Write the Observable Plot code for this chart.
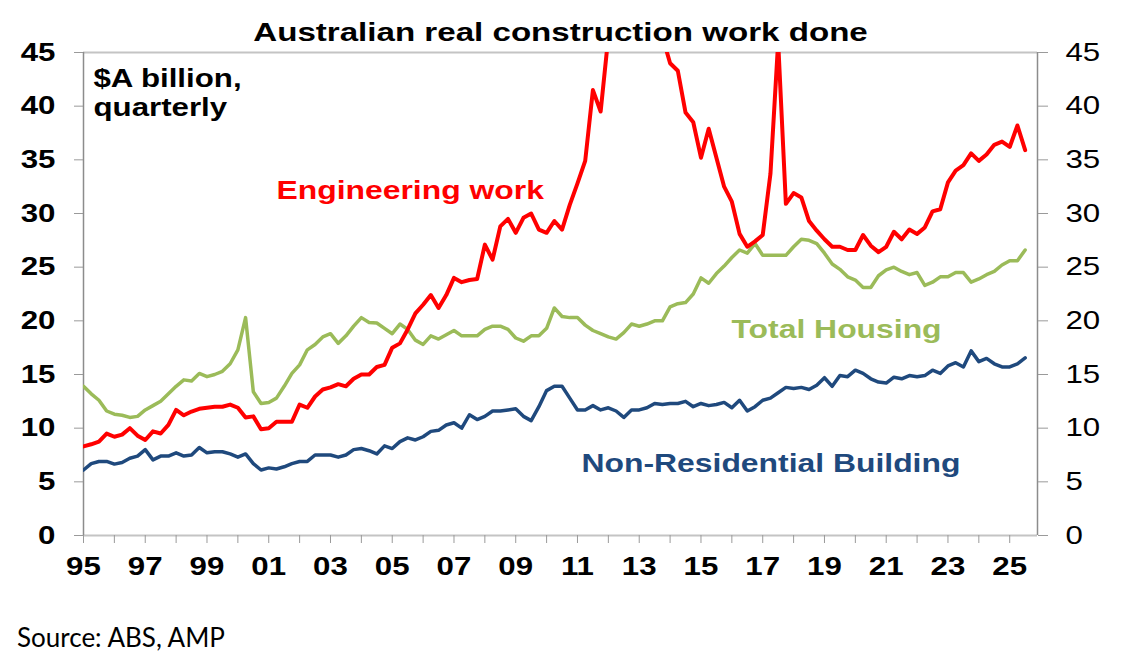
<!DOCTYPE html>
<html><head><meta charset="utf-8">
<script src="https://cdn.jsdelivr.net/npm/d3@7"></script>
<script src="https://cdn.jsdelivr.net/npm/@observablehq/plot@0.6"></script>
<style>
body{margin:0;background:#fff;}
#wrap{position:relative;width:1121px;height:665px;overflow:hidden;}
#frame{position:absolute;left:17px;top:10px;width:1087px;height:576px;border:1px solid #efefef;box-sizing:border-box;}
#chart{position:absolute;left:0;top:0;}
#source{position:absolute;left:17px;top:624px;font-family:Lato,'Open Sans',sans-serif;font-size:26px;line-height:26px;color:#000;}
</style></head><body>
<div id="wrap"><div id="frame"></div><div id="chart"></div><div id="source">Source: ABS, AMP</div></div>
<script>
const title = "Australian real construction work done";
const unitLabel = ["$A billion,", "quarterly"];
const seriesNames = ["Engineering work", "Total Housing", "Non-Residential Building"];
const seriesColors = ["#ff0000", "#9bbb59", "#1f497d"];
const startYear = 1995; // quarterly from 1995 Q1
const yTicks = [0, 5, 10, 15, 20, 25, 30, 35, 40, 45];
const xTickYears = d3.range(1995, 2026);

const engineering = [
 8.3, 8.5, 8.75, 9.5,
 9.2, 9.4, 10.0, 9.3,
 8.9, 9.7, 9.5, 10.3,
 11.7, 11.2, 11.55, 11.8,
 11.9, 12.0, 12.0, 12.2,
 11.9, 11.0, 11.1, 9.9,
 10.0, 10.6, 10.6, 10.6,
 12.2, 11.9, 12.95, 13.6,
 13.8, 14.1, 13.9, 14.6,
 15.0, 15.0, 15.7, 15.9,
 17.5, 17.9, 19.2, 20.7,
 21.5, 22.4, 21.2, 22.4,
 24.0, 23.6, 23.8, 23.9,
 27.1, 25.7, 28.8, 29.5,
 28.2, 29.6, 30.0, 28.5,
 28.2, 29.3, 28.5, 30.8,
 32.8, 34.9, 41.5, 39.5,
 46.5, 49.0, 51.0, 52.0,
 52.5, 52.0, 50.0, 46.5,
 44.0, 43.3, 39.4, 38.5,
 35.2, 37.9, 35.2, 32.5,
 31.1, 28.1, 26.9, 27.4,
 28.0, 33.7, 46.0, 30.9,
 31.9, 31.5, 29.3, 28.4,
 27.6, 26.9, 26.9, 26.6,
 26.6, 28.0, 27.0, 26.4,
 26.9, 28.3, 27.6, 28.5,
 28.1, 28.7, 30.2, 30.4,
 32.9, 34.0, 34.5, 35.6,
 34.9, 35.5, 36.4, 36.7,
 36.2, 38.2, 35.9
];
const housing = [
 13.9, 13.2, 12.6, 11.6,
 11.3, 11.2, 11.0, 11.1,
 11.7, 12.1, 12.5, 13.2,
 13.9, 14.5, 14.4, 15.1,
 14.8, 15.0, 15.3, 16.0,
 17.3, 20.3, 13.4, 12.3,
 12.4, 12.8, 13.9, 15.1,
 15.9, 17.3, 17.8, 18.5,
 18.8, 17.9, 18.6, 19.5,
 20.3, 19.85, 19.8, 19.3,
 18.8, 19.7, 19.2, 18.2,
 17.8, 18.6, 18.3, 18.7,
 19.1, 18.6, 18.6, 18.6,
 19.2, 19.5, 19.5, 19.2,
 18.4, 18.1, 18.6, 18.6,
 19.3, 21.2, 20.4, 20.3,
 20.3, 19.6, 19.1, 18.8,
 18.5, 18.3, 18.9, 19.7,
 19.5, 19.7, 20.0, 20.0,
 21.3, 21.6, 21.7, 22.5,
 24.0, 23.5, 24.4, 25.1,
 25.9, 26.6, 26.3, 27.2,
 26.1, 26.1, 26.1, 26.1,
 26.9, 27.6, 27.5, 27.2,
 26.3, 25.3, 24.8, 24.1,
 23.8, 23.1, 23.1, 24.2,
 24.75, 25.0, 24.6, 24.3,
 24.5, 23.3, 23.6, 24.1,
 24.1, 24.5, 24.5, 23.6,
 23.9, 24.3, 24.6, 25.2,
 25.6, 25.6, 26.6
];
const nonResidential = [
 6.1, 6.7, 6.9, 6.9,
 6.65, 6.8, 7.2, 7.4,
 8.0, 7.05, 7.4, 7.4,
 7.7, 7.4, 7.5, 8.2,
 7.7, 7.8, 7.8, 7.6,
 7.3, 7.6, 6.7, 6.1,
 6.3, 6.2, 6.4, 6.7,
 6.9, 6.9, 7.5, 7.5,
 7.5, 7.3, 7.5, 8.0,
 8.1, 7.9, 7.6, 8.35,
 8.1, 8.75, 9.1, 8.9,
 9.2, 9.7, 9.8, 10.3,
 10.5, 10.0, 11.25, 10.8,
 11.1, 11.6, 11.6, 11.7,
 11.8, 11.1, 10.7, 12.0,
 13.5, 13.9, 13.9, 12.8,
 11.7, 11.7, 12.1, 11.7,
 11.9, 11.6, 11.0, 11.7,
 11.7, 11.9, 12.3, 12.2,
 12.3, 12.3, 12.5, 12.0,
 12.3, 12.1, 12.2, 12.4,
 11.9, 12.6, 11.6, 12.0,
 12.6, 12.8, 13.3, 13.8,
 13.7, 13.8, 13.6, 14.0,
 14.7, 13.9, 14.9, 14.8,
 15.4, 15.1, 14.6, 14.3,
 14.2, 14.75, 14.6, 14.9,
 14.8, 14.9, 15.4, 15.1,
 15.8, 16.1, 15.7, 17.2,
 16.2, 16.5, 16.0, 15.7,
 15.7, 16.0, 16.55
];

const toRows = (arr) => arr.map((v, i) => ({t: startYear + i / 4, v}));
const seriesRows = [engineering, housing, nonResidential].map(toRows);

const W = 1121, H = 600;
const mL = 83, mR = 84, mT = 52, mB = 65;
const fontMain = "'Liberation Sans', Arial, sans-serif";

const chart = Plot.plot({
  width: W, height: H,
  marginLeft: mL, marginRight: mR, marginTop: mT, marginBottom: mB,
  style: {fontFamily: fontMain, fontSize: "25px", fontWeight: "bold", color: "#000", background: "#fff", overflow: "visible"},
  x: {domain: [1995, 2025.9]},
  y: {domain: [0, 45]},
  marks: [
    Plot.ruleY([45], {stroke: "#c4c4c4", strokeWidth: 2}),
    Plot.ruleY([0], {stroke: "#c4c4c4", strokeWidth: 2}),
    Plot.ruleX([1995], {stroke: "#8c8c8c", strokeWidth: 1.5}),
    Plot.ruleX([2025.9], {stroke: "#8c8c8c", strokeWidth: 1.5}),
    Plot.axisY({anchor: "left", ticks: yTicks, tickSize: 9, tickPadding: 19, stroke: "#9a9a9a", fill: "#000", label: null, fontWeight: "bold"}),
    Plot.axisY({anchor: "right", ticks: yTicks, tickSize: 10, tickPadding: 18, stroke: "#9a9a9a", fill: "#000", label: null, fontWeight: "normal"}),
    Plot.axisX({ticks: xTickYears, tickFormat: d => d % 2 === 1 ? String(d % 100).padStart(2, "0") : "", tickSize: 8, tickPadding: 14, stroke: "#9a9a9a", fill: "#000", label: null, fontWeight: "bold"}),
    Plot.line(seriesRows[1], {x: "t", y: "v", stroke: seriesColors[1], strokeWidth: 3.5, strokeLinejoin: "round", clip: true}),
    Plot.line(seriesRows[2], {x: "t", y: "v", stroke: seriesColors[2], strokeWidth: 3.5, strokeLinejoin: "round", clip: true}),
    Plot.line(seriesRows[0], {x: "t", y: "v", stroke: seriesColors[0], strokeWidth: 4, strokeLinejoin: "round", clip: true}),
    Plot.text([title], {text: d => d, frameAnchor: "top", lineAnchor: "middle", dy: -20, fontSize: 26.5, fontWeight: "bold", fill: "#000"}),
    Plot.text([unitLabel[0]], {text: d => d, frameAnchor: "top-left", lineAnchor: "middle", textAnchor: "start", dx: 10, dy: 26, fontSize: 25, fill: "#000"}),
    Plot.text([unitLabel[1]], {text: d => d, frameAnchor: "top-left", lineAnchor: "middle", textAnchor: "start", dx: 10, dy: 55, fontSize: 25, fill: "#000"}),
    Plot.text([seriesNames[0]], {text: d => d, frameAnchor: "top-left", lineAnchor: "middle", textAnchor: "start", dx: 193, dy: 138, fontSize: 25.5, fill: seriesColors[0]}),
    Plot.text([seriesNames[1]], {text: d => d, frameAnchor: "top-left", lineAnchor: "middle", textAnchor: "start", dx: 648, dy: 277, fontSize: 25.5, fill: "#9bbb59"}),
    Plot.text([seriesNames[2]], {text: d => d, frameAnchor: "top-left", lineAnchor: "middle", textAnchor: "start", dx: 498, dy: 411, fontSize: 25.5, fill: "#1f497d"})
  ]
});

// The reference picture is horizontally stretched; widen glyphs about their anchor.
chart.querySelectorAll("text").forEach(t => {
  let tr = t.getAttribute("transform") || "";
  const x = t.getAttribute("x");
  if (x !== null && !isNaN(+x)) { tr += ` translate(${x},0)`; t.removeAttribute("x"); }
  t.setAttribute("transform", `${tr} scale(1.25,1)`);
});
document.getElementById("chart").appendChild(chart);
</script>
</body></html>
